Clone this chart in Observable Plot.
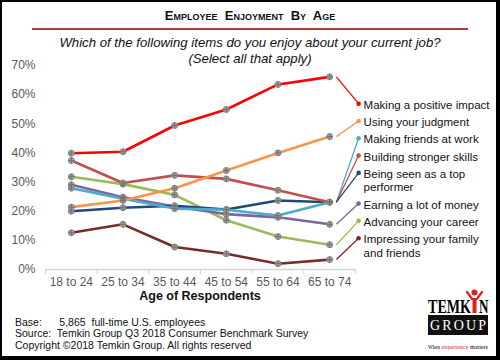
<!DOCTYPE html>
<html><head><meta charset="utf-8">
<script src="https://cdn.jsdelivr.net/npm/d3@7"></script>
<script src="https://cdn.jsdelivr.net/npm/@observablehq/plot@0.6"></script>
<style>
html,body{margin:0;padding:0;background:#fff;}
body{width:500px;height:360px;position:relative;overflow:hidden;font-family:"Liberation Sans",Arial,sans-serif;}
#frame{position:absolute;left:0;top:0;width:500px;height:360px;box-sizing:border-box;border:2px solid #000;border-right-width:4px;border-bottom-width:4px;}
#title{position:absolute;left:0;width:500px;top:8px;text-align:center;font-weight:bold;font-variant:small-caps;font-size:13px;color:#111;}
#rule{position:absolute;left:32px;width:436px;top:28px;height:2px;background:#b23a3a;}
#sub{position:absolute;left:0;width:500px;top:35px;text-align:center;font-style:italic;font-size:13.2px;line-height:16px;color:#111;}
#chart{position:absolute;left:0;top:55px;}
#xlab{position:absolute;left:45px;width:310px;top:289px;text-align:center;font-weight:bold;font-size:12.5px;color:#111;}
.foot{position:absolute;left:15px;font-size:10.5px;color:#111;white-space:pre;}
#logo{position:absolute;left:424px;top:288px;}
</style></head>
<body>
<div id="frame"></div>
<div id="title">Employee&nbsp; Enjoyment&nbsp; By&nbsp; Age</div>
<div id="rule"></div>
<div id="sub">Which of the following items do you enjoy about your current job?<br>(Select all that apply)</div>
<div id="chart"></div>
<div id="xlab">Age of Respondents</div>
<div class="foot" style="top:316px">Base:      5,865  full-time U.S. employees</div>
<div class="foot" style="top:327px">Source:  Temkin Group Q3 2018 Consumer Benchmark Survey</div>
<div class="foot" style="top:339px">Copyright ©2018 Temkin Group. All rights reserved</div>
<svg id="logo" width="70" height="66" viewBox="0 0 70 66">
  <circle cx="50.5" cy="4.5" r="3" fill="#e0201b"/>
  <path d="M43 4 L48 11 L53 11 L58 4" stroke="#e0201b" stroke-width="2.2" fill="none" stroke-linecap="round"/>
  <rect x="48.5" y="11" width="4" height="14" fill="#e0201b"/>
  <text x="4" y="25" font-family="Liberation Serif" font-weight="bold" font-size="19" textLength="43" lengthAdjust="spacingAndGlyphs">TEMK</text>
  <text x="55" y="25" font-family="Liberation Serif" font-weight="bold" font-size="19" textLength="9.5" lengthAdjust="spacingAndGlyphs">N</text>
  <rect x="4" y="27" width="60" height="20" fill="#111"/>
  <text x="6" y="42" font-family="Liberation Serif" font-size="14" fill="#fff" textLength="56" lengthAdjust="spacing">GROUP</text>
  <text x="4" y="61" font-family="Liberation Serif" font-size="7" textLength="12" lengthAdjust="spacingAndGlyphs">When</text>
  <text x="17.5" y="61" font-family="Liberation Serif" font-size="7" fill="#e0201b" textLength="27" lengthAdjust="spacingAndGlyphs">experience</text>
  <text x="46" y="61" font-family="Liberation Serif" font-size="7" textLength="18" lengthAdjust="spacingAndGlyphs">matters</text>
</svg>
<script>
const ages = ["18 to 24", "25 to 34", "35 to 44", "45 to 54", "55 to 64", "65 to 74"];
const seriesNames = ["Making a positive impact", "Using your judgment", "Making friends at work",
  "Building stronger skills", "Being seen as a top performer", "Earning a lot of money",
  "Advancing your career", "Impressing your family and friends"];
const legendLabels = ["Making a positive impact", "Using your judgment", "Making friends at work",
  "Building stronger skills", "Being seen as a top\nperformer", "Earning a lot of money",
  "Advancing your career", "Impressing your family\nand friends"];
const impact = [39.9, 40.4, 49.4, 54.9, 63.5, 66.1];
const judgment = [21.4, 23.7, 27.9, 34.0, 40.0, 45.6];
const friends = [27.9, 24.3, 20.9, 20.5, 18.5, 23.1];
const skills = [37.4, 29.7, 32.3, 31.1, 27.2, 23.1];
const topPerformer = [20.0, 21.2, 21.9, 20.6, 23.7, 23.1];
const money = [29.1, 24.8, 21.6, 19.0, 17.9, 15.5];
const career = [31.8, 29.3, 25.6, 16.9, 11.3, 8.5];
const family = [12.6, 15.5, 7.7, 5.4, 2.0, 3.4];
const yTicks = [0, 10, 20, 30, 40, 50, 60, 70];

const colors = ["#ff0000", "#f79646", "#4bacc6", "#c0504d", "#1f497d", "#8064a2", "#9bbb59", "#772c2a"];
const seriesValues = [impact, judgment, friends, skills, topPerformer, money, career, family];

const rows = [];
seriesValues.forEach((vals, s) => vals.forEach((v, i) => rows.push({name: seriesNames[s], s, i, v})));
// draw red last so it is on top
rows.sort((a, b) => b.s - a.s);

// legend layout: stacked labels, in percent units of the y scale
const pxPerUnit = 204 / 70;
let cursor = 56.9;
const legendRows = seriesNames.map((name, s) => {
  const lines = legendLabels[s].split("\n").length;
  const r = {name, label: legendLabels[s], y: cursor, last: seriesValues[s][ages.length - 1]};
  cursor -= (17.3 + (lines - 1) * 13.4) / pxPerUnit;
  return r;
});
const labelX = ages.length - 1 + 0.56;
const linkX = ages.length - 1 + 0.13;
const bounds = d3.range(-0.5, ages.length, 1);

const chart = Plot.plot({
  width: 500, height: 250,
  marginTop: 10, marginBottom: 36, marginLeft: 45, marginRight: 145,
  style: {fontFamily: "'Liberation Sans', Arial, sans-serif", background: "transparent"},
  x: {domain: [-0.5, ages.length - 0.5], axis: null},
  y: {domain: [0, 70], axis: null},
  color: {domain: seriesNames, range: colors},
  marks: [
    Plot.axisY({ticks: yTicks, tickFormat: d => d + "%", tickSize: 0, tickPadding: 10, fontSize: 12, color: "#595959", label: null}),
    Plot.ruleY([0], {x1: -0.5, x2: ages.length - 0.5, stroke: "#d4d4d4", strokeWidth: 1.3}),
    Plot.axisX({ticks: bounds, tickFormat: () => "", tickSize: 5, color: "#d4d4d4", label: null}),
    Plot.axisX({ticks: d3.range(ages.length), tickFormat: i => ages[i], tickSize: 0, tickPadding: 8, fontSize: 12, color: "#595959", label: null}),
    Plot.line(rows, {x: "i", y: "v", z: "name", stroke: "name", strokeWidth: 2.6, curve: "linear"}),
    Plot.dot(rows, {x: "i", y: "v", r: 3, fill: "#a3a3a3", stroke: "#858585", strokeWidth: 1}),
    Plot.dot(rows, {x: "i", y: "v", r: 2, symbol: "plus", stroke: "#6f6f6f", strokeWidth: 1}),
    Plot.link(legendRows, {x1: linkX, y1: "last", x2: labelX, y2: "y", stroke: "name", strokeWidth: 1.3}),
    Plot.dot(legendRows, {x: labelX, y: "y", r: 2.3, fill: "name"}),
    Plot.text(legendRows, {x: labelX, y: "y", text: "label", dx: 5, dy: -4.5, textAnchor: "start", lineAnchor: "top", lineHeight: 1.17, fontSize: 11.5, fill: "#111"})
  ]
});
document.getElementById("chart").appendChild(chart);
</script>
</body></html>
